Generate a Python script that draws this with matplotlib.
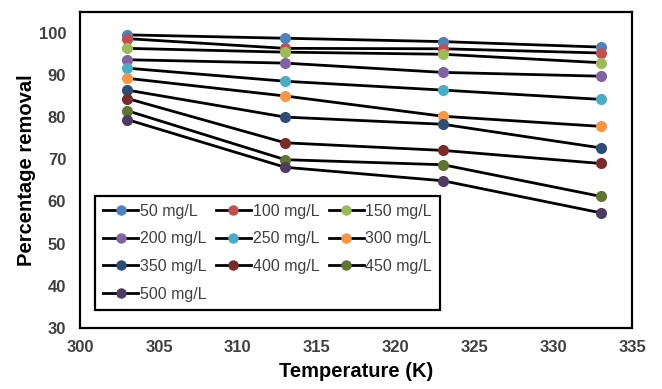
import matplotlib.pyplot as plt
from matplotlib.lines import Line2D

plt.rcParams['font.family'] = ['Liberation Sans', 'DejaVu Sans']

# temperatures (K)
temperature = [303, 313, 323, 333]

# percentage removal for each initial concentration
labels = ['50 mg/L', '100 mg/L', '150 mg/L', '200 mg/L', '250 mg/L',
          '300 mg/L', '350 mg/L', '400 mg/L', '450 mg/L', '500 mg/L']
c50 = [99.5, 98.7, 97.9, 96.6]
c100 = [98.6, 96.3, 96.2, 95.2]
c150 = [96.3, 95.4, 94.9, 92.9]
c200 = [93.6, 92.8, 90.6, 89.7]
c250 = [91.6, 88.5, 86.4, 84.2]
c300 = [89.2, 85.0, 80.2, 77.8]
c350 = [86.4, 80.0, 78.3, 72.7]
c400 = [84.4, 73.9, 72.1, 69.0]
c450 = [81.5, 69.9, 68.7, 61.2]
c500 = [79.4, 68.1, 64.9, 57.3]
series = [c50, c100, c150, c200, c250, c300, c350, c400, c450, c500]

colors = ['#4F81BD', '#C0504D', '#9BBB59', '#8064A2', '#4BACC6',
          '#F79646', '#2C4D75', '#772C2A', '#5F7530', '#4D3B62']

fig = plt.figure(figsize=(6.62, 3.89), dpi=100)
ax = fig.add_axes([0.121, 0.157, 0.834, 0.813])

for vals, col, lab in zip(series, colors, labels):
    ax.plot(temperature, vals, color='black', linewidth=2.0, marker='o',
            markersize=7, markerfacecolor=col, markeredgecolor=col,
            label=lab, zorder=3)

ax.set_xlim(300, 335)
ax.set_ylim(30, 105)
ax.set_xticks(range(300, 336, 5))
ax.set_yticks(range(30, 101, 10))
ax.tick_params(axis='both', length=0, labelsize=12, labelcolor='#404040')
ax.tick_params(axis='y', pad=10)
ax.tick_params(axis='x', pad=9)
for t in ax.get_xticklabels() + ax.get_yticklabels():
    t.set_fontweight('bold')

for s in ax.spines.values():
    s.set_linewidth(1.6)
    s.set_color('black')

ax.set_xlabel('Temperature (K)', fontsize=14.5, fontweight='bold', labelpad=5)
ax.set_ylabel('Percentage removal', fontsize=14.5, fontweight='bold', labelpad=2)

# legend filled row by row like the original (matplotlib fills by column)
order = [0, 3, 6, 9, 1, 4, 7, 2, 5, 8]
handles = [Line2D([], [], color='black', linewidth=2.0, marker='o', markersize=6.5,
                  markerfacecolor=colors[i], markeredgecolor=colors[i]) for i in order]
leg = ax.legend(handles, [labels[i] for i in order], ncol=3, loc='lower left',
                bbox_to_anchor=(0.0127, 0.032, 0.654, 0.373), mode='expand',
                fontsize=11.5, handlelength=2.2, handletextpad=0.1,
                labelspacing=0.8, borderpad=0.5, columnspacing=0.4,
                fancybox=False, framealpha=1, edgecolor='black')
leg.get_frame().set_linewidth(1.6)
for t in leg.get_texts():
    t.set_color('#404040')

fig.savefig('out.png', dpi=100)
